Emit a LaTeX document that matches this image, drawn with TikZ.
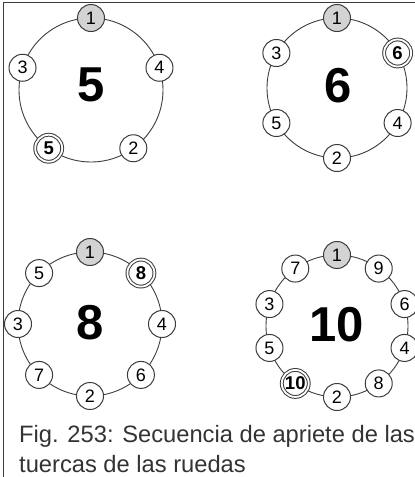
\documentclass[tikz,border=0pt]{standalone}
\usepackage{fontspec}
\setmainfont{Liberation Sans}
\usetikzlibrary{positioning}
\definecolor{rim}{HTML}{3C3C3C}
\definecolor{first}{HTML}{D3D3D3}
\definecolor{capink}{HTML}{333333}

\begin{document}
\begin{tikzpicture}[x=1pt, y=1pt,
      wheel/.style={draw=rim, line width=0.9pt},
      nut/.style={circle, draw=rim, line width=1pt, fill=white, minimum size=27pt,
                  inner sep=0pt, font=\fontsize{18}{18}\selectfont},
      firstnut/.style={nut, fill=first},
      lastnut/.style={nut, minimum size=27pt, double=white, double distance=1.8pt,
                  font=\fontsize{18.5}{18}\selectfont\bfseries},
      bignum/.style={inner sep=0pt, font=\fontsize{49}{49}\selectfont\bfseries},
      capt/.style={anchor=base west, inner sep=0pt, text=capink, font=\fontsize{23.7}{30}\selectfont}]
    \useasboundingbox (0,0) rectangle (415,-477);
    \draw[rim, line width=0.8pt] (415,-2) -- (3,-2) -- (3,-477);

    % 5 nuts
    \coordinate (c5) at (91,-90);
    \draw[wheel] (c5) circle[radius=72pt];
    \node[bignum] (n5) at (91,-85) {5};
    \foreach \a/\n/\s in {90/1/firstnut, 18/4/nut, -54/2/nut, -126/5/lastnut, 162/3/nut}
      \node[\s] (p5-\n) at ([shift={(\a:72pt)}]c5) {\n};

    % 6 nuts
    \coordinate (c6) at (337,-88);
    \draw[wheel] (c6) circle[radius=70pt];
    \node[bignum] (n6) at (338,-86) {6};
    \foreach \a/\n/\s in {90/1/firstnut, 30/6/lastnut, -30/4/nut, -90/2/nut, -150/5/nut, 150/3/nut}
      \node[\s] (p6-\n) at ([shift={(\a:70pt)}]c6) {\n};

    % 8 nuts
    \coordinate (c8) at (90,-324);
    \draw[wheel] (c8) circle[radius=72pt];
    \node[bignum] (n8) at (90,-323) {8};
    \foreach \a/\n/\s in {90/1/firstnut, 45/8/lastnut, 0/4/nut, -45/6/nut, -90/2/nut,
                          -135/7/nut, 180/3/nut, 135/5/nut}
      \node[\s] (p8-\n) at ([shift={(\a:72pt)}]c8) {\n};

    % 10 nuts
    \coordinate (c10) at (337,-326);
    \draw[wheel] (c10) circle[radius=71pt];
    \node[bignum] (n10) at (337,-325) {10};
    \foreach \a/\n/\s in {90/1/firstnut, 54/9/nut, 18/6/nut, -18/4/nut, -54/8/nut, -90/2/nut,
                          -126/10/lastnut, -162/5/nut, 162/3/nut, 126/7/nut}
      \node[\s] (p10-\n) at ([shift={(\a:71pt)}]c10) {\n};

    % caption
    \node[capt] (cap1) at (19,-442) {Fig. 253: Secuencia de apriete de las};
    \node[capt, below=30pt of cap1.base west, anchor=base west] (cap2) {tuercas de las ruedas};
  \end{tikzpicture}
\end{document}
